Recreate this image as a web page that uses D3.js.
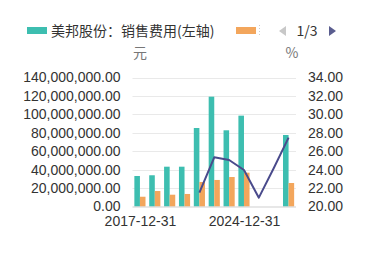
<!doctype html>
<html>
<head>
<meta charset="utf-8">
<script src="https://cdnjs.cloudflare.com/ajax/libs/d3/7.8.5/d3.min.js"></script>
<style>
  body{margin:0;background:#fff;}
  svg{display:block;font-family:"Microsoft YaHei","Noto Sans CJK SC","Noto Sans",sans-serif;}
</style>
</head>
<body>
<svg id="chart" width="369" height="276"></svg>
<script>
// categories (only 2017-12-31 and 2024-12-31 are shown as labels)
const dates = ["2017-12-31","2018-12-31","2019-12-31","2020-12-31","2021-12-31","2022-12-31",
               "2023-12-31","2024-12-31","2025-03-31","2025-06-30","2025-09-30"];
// 销售费用 (元), left axis
const salesCost = [33.1e6, 33.9e6, 43.2e6, 43.2e6, 85.2e6, 119.2e6, 82.7e6, 98.6e6, null, null, 77.6e6];
// second series (%), right axis, bars
const ratioBar = [21.06, 21.68, 21.28, 21.36, 22.66, 22.88, 23.2, 23.67, null, null, 22.55];
// third series (%), right axis, line
const ratioLine = [null, null, null, null, 21.5, 25.34, 25.05, 23.96, 20.96, 24.15, 27.47];
const leftTicks = [0, 20e6, 40e6, 60e6, 80e6, 100e6, 120e6, 140e6];
const rightTicks = [20, 22, 24, 26, 28, 30, 32, 34];
const shownLabels = ["2017-12-31", "2024-12-31"];

const svg = d3.select("#chart");
const pLeft = 132.5, pRight = 296, pTop = 77.5, pBottom = 206.5;

const x0 = d3.scaleBand().domain(dates).range([pLeft, pRight]).paddingInner(0.25).paddingOuter(0.125);
const x1 = d3.scaleBand().domain(["a","b"]).range([0, x0.bandwidth()]);
const yL = d3.scaleLinear().domain([0, 140e6]).range([pBottom, pTop]);
const yR = d3.scaleLinear().domain([20, 34]).range([pBottom, pTop]);

// gridlines
svg.append("g").selectAll("line").data(leftTicks.slice(1)).enter().append("line")
  .attr("x1", pLeft).attr("x2", pRight)
  .attr("y1", d => Math.round(yL(d)) + 0.5).attr("y2", d => Math.round(yL(d)) + 0.5)
  .attr("stroke", "#e9e9e9").attr("stroke-width", 1);

// left axis
const axL = svg.append("g").attr("transform", `translate(${pLeft},0)`)
  .call(d3.axisLeft(yL).tickValues(leftTicks).tickFormat(d3.format(",.2f")).tickSize(0).tickPadding(12));
axL.select(".domain").remove();
axL.selectAll("text").attr("fill", "#333").style("font-size", "14px").style("font-family", "inherit");

// right axis
const axR = svg.append("g").attr("transform", `translate(${pRight},0)`)
  .call(d3.axisRight(yR).tickValues(rightTicks).tickFormat(d3.format(".2f")).tickSize(0).tickPadding(12));
axR.select(".domain").remove();
axR.selectAll("text").attr("fill", "#333").style("font-size", "14px").style("font-family", "inherit");

// bars
const g = svg.append("g");
g.selectAll("rect.a").data(dates.map((d, i) => ({d, v: salesCost[i]})).filter(o => o.v != null))
  .enter().append("rect").attr("class", "a")
  .attr("x", o => x0(o.d) + x1("a")).attr("width", x1.bandwidth())
  .attr("y", o => yL(o.v)).attr("height", o => pBottom - yL(o.v))
  .attr("fill", "#3dbeb0");
g.selectAll("rect.b").data(dates.map((d, i) => ({d, v: ratioBar[i]})).filter(o => o.v != null))
  .enter().append("rect").attr("class", "b")
  .attr("x", o => x0(o.d) + x1("b")).attr("width", x1.bandwidth())
  .attr("y", o => yR(o.v)).attr("height", o => pBottom - yR(o.v))
  .attr("fill", "#f3a65c");

// x axis line
svg.append("line").attr("x1", pLeft).attr("x2", pRight).attr("y1", pBottom + 0.5).attr("y2", pBottom + 0.5)
  .attr("stroke", "#cfcfcf");

// line series
const lineData = dates.map((d, i) => ({d, v: ratioLine[i]})).filter(o => o.v != null);
svg.append("path").datum(lineData)
  .attr("d", d3.line().x(o => x0(o.d) + x0.bandwidth() / 2).y(o => yR(o.v)))
  .attr("fill", "none").attr("stroke", "#4a4b8c").attr("stroke-width", 2).attr("stroke-linejoin", "round");

// x labels
const axX = svg.append("g").attr("transform", `translate(0,${pBottom})`)
  .call(d3.axisBottom(d3.scalePoint().domain(dates).range([pLeft, pRight]).padding(0.5))
    .tickValues(shownLabels).tickSize(0).tickPadding(10));
axX.select(".domain").remove();
axX.selectAll("text").attr("fill", "#333").style("font-size", "14px").style("font-family", "inherit");

// axis names
svg.append("text").attr("x", 140).attr("y", 58).attr("text-anchor", "middle")
  .attr("fill", "#777").style("font-size", "14px").text("元");
svg.append("text").attr("x", 292).attr("y", 58).attr("text-anchor", "middle")
  .attr("fill", "#777").style("font-size", "14px").text("%");

// legend
const lg = svg.append("g");
lg.append("rect").attr("x", 27).attr("y", 27).attr("width", 20).attr("height", 7).attr("fill", "#3dbeb0");
lg.append("text").attr("x", 51).attr("y", 36).attr("fill", "#333").style("font-size", "14px")
  .text("美邦股份：销售费用(左轴)");
lg.append("rect").attr("x", 236).attr("y", 27).attr("width", 20).attr("height", 7).attr("fill", "#f3a65c");
lg.append("line").attr("x1", 259.5).attr("x2", 259.5).attr("y1", 25).attr("y2", 37)
  .attr("stroke", "#ccc").attr("stroke-dasharray", "1,2");
lg.append("path").attr("d", "M286,26 L279,31 L286,36 Z").attr("fill", "#c8c8c8");
lg.append("text").attr("x", 307).attr("y", 36).attr("text-anchor", "middle").attr("fill", "#333")
  .style("font-size", "14px").text("1/3");
lg.append("path").attr("d", "M329,26 L336,31 L329,36 Z").attr("fill", "#5a5d8f");
</script>
</body>
</html>
